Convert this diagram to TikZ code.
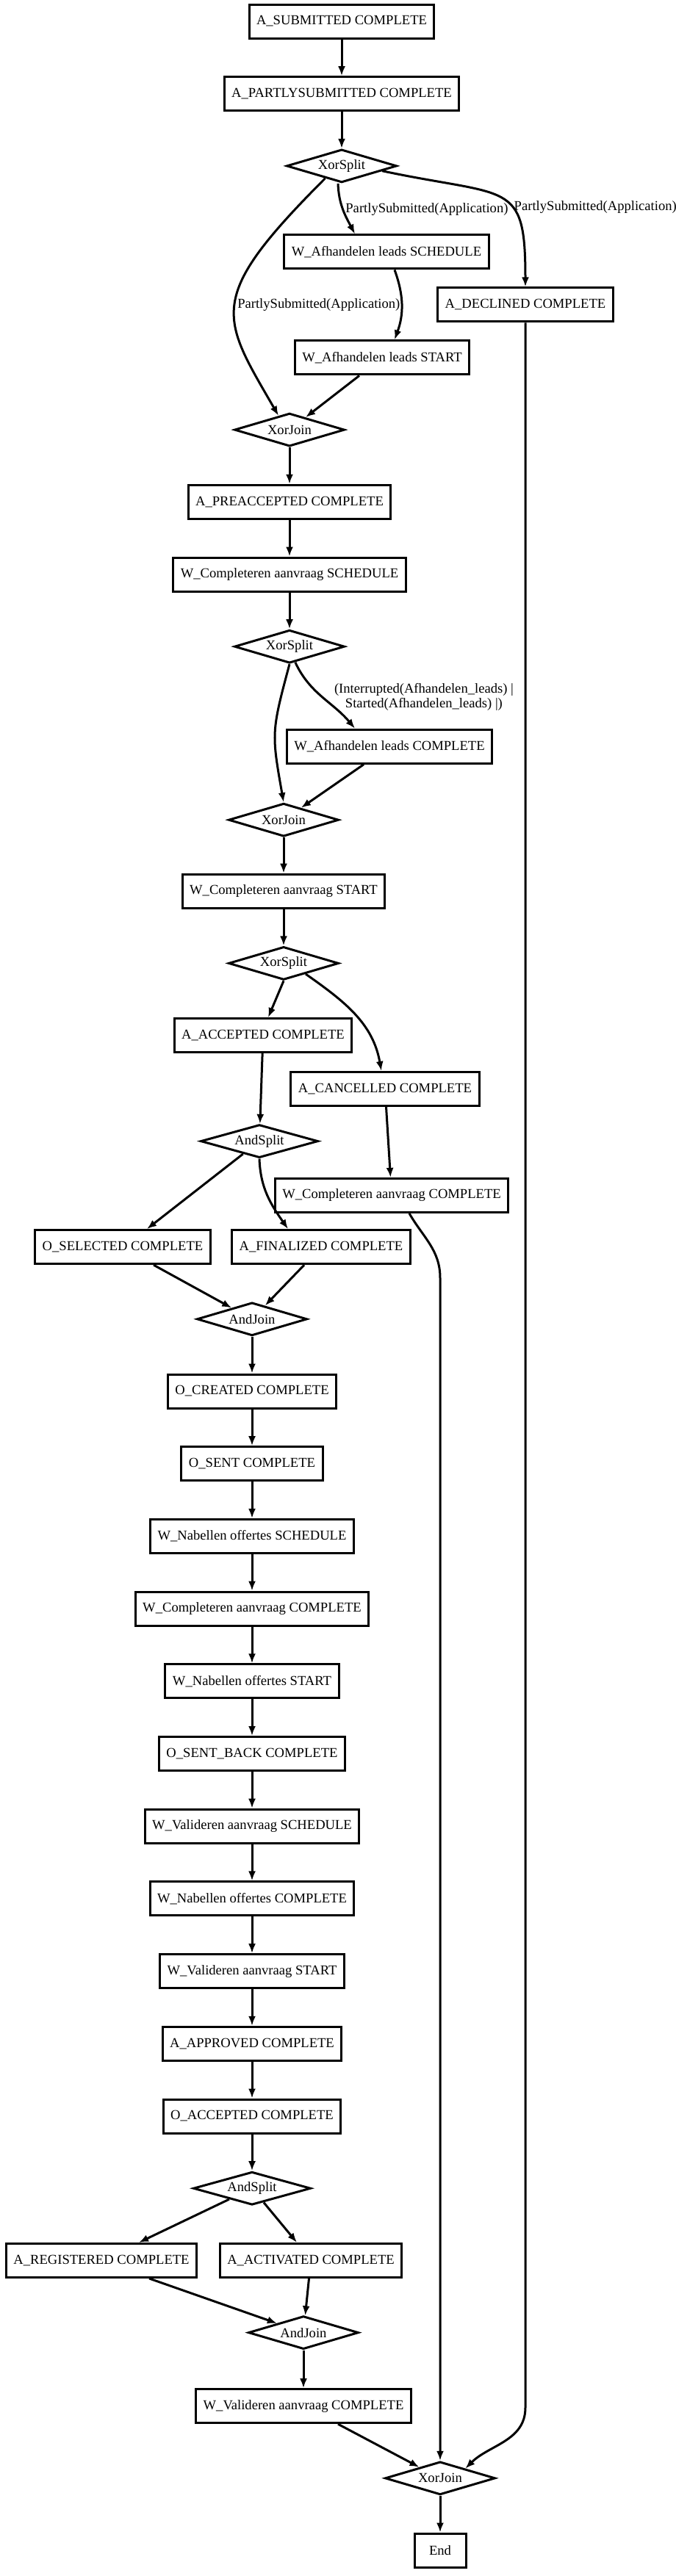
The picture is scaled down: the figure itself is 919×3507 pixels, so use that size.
\documentclass[tikz,border=0pt]{standalone}
\usepackage{fontspec}
\setmainfont{Liberation Serif}
\usetikzlibrary{positioning,shapes.geometric,arrows.meta}

\tikzset{
	task/.style={draw, rectangle, line width=3pt, minimum height=46pt, inner xsep=10pt, inner ysep=2pt, font=\fontsize{18.6}{20}\selectfont},
	gate/.style={draw, diamond, line width=3pt, aspect=3, inner sep=0pt, minimum width=#1, minimum height=45pt, font=\fontsize{18.6}{20}\selectfont},
	gate/.default=150pt,
	flow/.style={line width=3pt, -{Latex[length=13pt,width=10pt]}},
	cond/.style={inner sep=2pt, align=center, font=\fontsize{18.6}{20}\selectfont},
}

\begin{document}
\begin{tikzpicture}[x=1pt, y=1pt, node distance=49.7pt]
	\useasboundingbox (0,0) rectangle (919,-3507);

	% Define nodes
	\node[task] (sub) at (465,-29) {A\_SUBMITTED COMPLETE};
	\node[task, below=of sub] (part) {A\_PARTLYSUBMITTED COMPLETE};
	\node[gate, below=of part] (xs1) {XorSplit};
	\node[task, below=68.5pt of xs1, xshift=61pt] (wafhs) {W\_Afhandelen leads SCHEDULE};
	\node[task, below=140.5pt of xs1, xshift=250pt] (declined) {A\_DECLINED COMPLETE};
	\node[task, below=95pt of wafhs, xshift=-6pt] (wafhst) {W\_Afhandelen leads START};
	\node[gate, below=of wafhst, xshift=-126pt] (xj1) {XorJoin};
	\node[task, below=of xj1] (preacc) {A\_PREACCEPTED COMPLETE};
	\node[task, below=of preacc] (wcsched) {W\_Completeren aanvraag SCHEDULE};
	\node[gate, below=of wcsched] (xs2) {XorSplit};
	\node[task, below=87.5pt of xs2, xshift=136pt] (wafhc) {W\_Afhandelen leads COMPLETE};
	\node[gate, below=51.5pt of wafhc, xshift=-144pt] (xj2) {XorJoin};
	\node[task, below=48.5pt of xj2] (wcstart) {W\_Completeren aanvraag START};
	\node[gate, below=of wcstart] (xs3) {XorSplit};
	\node[task, below=of xs3, xshift=-28pt] (accepted) {A\_ACCEPTED COMPLETE};
	\node[task, below=122.5pt of xs3, xshift=138pt] (cancelled) {A\_CANCELLED COMPLETE};
	\node[gate=160pt, below=95.5pt of accepted, xshift=-5pt] (as1) {AndSplit};
	\node[task, below=96pt of cancelled, xshift=9pt] (wccomp1) {W\_Completeren aanvraag COMPLETE};
	\node[task, below=95.5pt of as1, xshift=-186pt] (osel) {O\_SELECTED COMPLETE};
	\node[task, below=95.5pt of as1, xshift=84pt] (final) {A\_FINALIZED COMPLETE};
	\node[gate, below=of final, xshift=-94pt] (aj1) {AndJoin};
	\node[task, below=of aj1] (ocreated) {O\_CREATED COMPLETE};
	\node[task, below=of ocreated] (osent) {O\_SENT COMPLETE};
	\node[task, below=of osent] (wnsched) {W\_Nabellen offertes SCHEDULE};
	\node[task, below=of wnsched] (wccomp2) {W\_Completeren aanvraag COMPLETE};
	\node[task, below=of wccomp2] (wnstart) {W\_Nabellen offertes START};
	\node[task, below=of wnstart] (osentback) {O\_SENT\_BACK COMPLETE};
	\node[task, below=of osentback] (wvsched) {W\_Valideren aanvraag SCHEDULE};
	\node[task, below=of wvsched] (wncomp) {W\_Nabellen offertes COMPLETE};
	\node[task, below=of wncomp] (wvstart) {W\_Valideren aanvraag START};
	\node[task, below=of wvstart] (approved) {A\_APPROVED COMPLETE};
	\node[task, below=of approved] (oaccepted) {O\_ACCEPTED COMPLETE};
	\node[gate=160pt, below=of oaccepted] (as2) {AndSplit};
	\node[task, below=of as2, xshift=-205pt] (registered) {A\_REGISTERED COMPLETE};
	\node[task, below=of as2, xshift=80pt] (activated) {A\_ACTIVATED COMPLETE};
	\node[gate, below=of activated, xshift=-10pt] (aj2) {AndJoin};
	\node[task, below=51.5pt of aj2] (wvcomp) {W\_Valideren aanvraag COMPLETE};
	\node[gate, below=of wvcomp, xshift=186pt] (xj3) {XorJoin};
	\node[task, below=of xj3, minimum width=70pt] (stop) {End};

	% Bend points of the long lines
	\coordinate (bendD) at ([yshift=72pt]declined.south |- xj3.north);
	\coordinate[yshift=-88pt] (bendC) at (xj3.north |- wccomp1.south);

	% Connect the nodes
	\foreach \a/\b in {sub/part, part/xs1, xj1/preacc, preacc/wcsched, wcsched/xs2,
		xj2/wcstart, wcstart/xs3, accepted/as1, cancelled/wccomp1, aj1/ocreated,
		ocreated/osent, osent/wnsched, wnsched/wccomp2, wccomp2/wnstart, wnstart/osentback,
		osentback/wvsched, wvsched/wncomp, wncomp/wvstart, wvstart/approved,
		approved/oaccepted, oaccepted/as2, activated/aj2, aj2/wvcomp, xj3/stop}
		\draw[flow] (\a) -- (\b);

	\draw[flow] ([xshift=-5pt]xs1.south) to[out=-88, in=118] node[cond, pos=.5, right] {PartlySubmitted(Application)} ([xshift=-43pt]wafhs.north);
	\draw[flow] (xs1.-7) to[out=-12, in=90, out distance=177pt, in distance=147pt] node[cond, pos=.6, right] {PartlySubmitted(Application)} (declined.north);
	\draw[flow] (xs1.217) to[out=225, in=120, out distance=232pt, in distance=157pt] node[cond, pos=.5, right] {PartlySubmitted(Application)} (xj1.128);
	\draw[flow] ([xshift=11pt]wafhs.south) to[out=-70, in=70] ([xshift=17pt]wafhst.north);
	\draw[flow] ([xshift=-31pt]wafhst.south) -- (xj1);
	\draw[flow] (declined.south) -- (bendD) to[out=-90, in=45] (xj3.21);

	\draw[flow] (xs2.south) to[out=-105, in=100, looseness=1.3] (xj2.north);
	\draw[flow] (xs2.-70) to[out=-65, in=130] node[cond, pos=.5, right=13pt] {(Interrupted(Afhandelen\_leads) |\\Started(Afhandelen\_leads) |)} ([xshift=-47pt]wafhc.north);
	\draw[flow] ([xshift=-35pt]wafhc.south) -- (xj2);

	\draw[flow] (xs3.south) -- ([xshift=7pt]accepted.north);
	\draw[flow] (xs3.-26) to[out=-35, in=100] ([xshift=-5pt]cancelled.north);
	\draw[flow] ([xshift=24pt]wccomp1.south) to[out=-60, in=90] (bendC) -- (xj3.north);

	\draw[flow] (as1) -- ([xshift=33pt]osel.north);
	\draw[flow] (as1.south) to[out=-88, in=125] ([xshift=-45pt]final.north);
	\draw[flow] ([xshift=42pt]osel.south) -- (aj1);
	\draw[flow] ([xshift=-23pt]final.south) -- (aj1);

	\draw[flow] (as2) -- ([xshift=51pt]registered.north);
	\draw[flow] (as2) -- ([xshift=-19pt]activated.north);
	\draw[flow] ([xshift=65pt]registered.south) -- (aj2);
	\draw[flow] ([xshift=47pt]wvcomp.south) -- (xj3);
\end{tikzpicture}
\end{document}
